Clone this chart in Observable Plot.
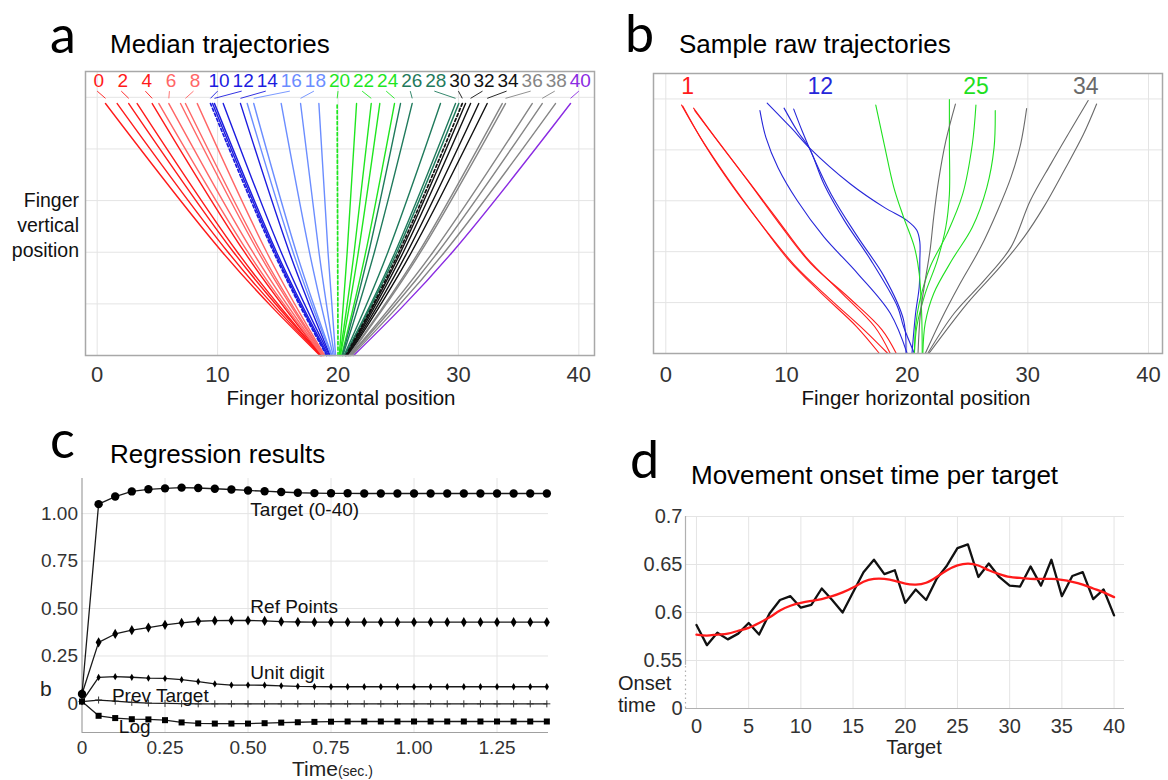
<!DOCTYPE html>
<html>
<head>
<meta charset="utf-8">
<script src="https://cdn.jsdelivr.net/npm/d3@7"></script>
<script src="https://cdn.jsdelivr.net/npm/@observablehq/plot@0.6"></script>
<style>
  html, body { margin:0; padding:0; background:#fff; }
  #page { position:relative; width:1168px; height:780px; overflow:hidden; background:#fff; }
  .panel { position:absolute; }
  .panel svg { overflow:visible; display:block; }
</style>
</head>
<body>
<div id="page"></div>
<script>
// ================= DATA =================
// Panel a: median trajectories, one per target 0..40
const targetsA = [0,1,2,3,4,5,6,7,8,9,10,11,12,13,14,15,16,17,18,19,20,21,22,23,24,25,26,27,28,29,30,31,32,33,34,35,36,37,38,39,40];
// horizontal position at the start (bottom), middle and end (top) of each trajectory
const endA   = [18.5,18.55,18.6,18.6,18.65,18.7,18.75,18.8,18.85,18.9,19.05,19.1,19.2,19.3,19.35,19.45,19.5,19.6,19.7,19.8,20.0,20.1,20.15,20.2,20.3,20.35,20.4,20.5,20.55,20.6,20.65,20.7,20.75,20.8,20.85,20.9,20.95,21.0,21.05,21.15,21.3];
const midA   = [10.4,10.87,11.33,11.65,12.24,12.52,12.93,13.39,13.61,14.08,14.66,14.77,14.9,15.28,15.96,16.27,16.54,17.63,18.42,19.17,19.97,20.76,21.34,21.69,22.3,22.55,23.02,24.14,24.74,24.89,25.05,25.2,25.42,25.75,26.1,26.7,26.85,27.88,28.29,28.84,29.49];
const startA = [0.69,1.66,2.62,3.32,4.57,5.12,5.95,6.92,7.33,8.31,9.41,9.58,9.74,10.47,11.9,12.46,13.0,15.28,16.89,18.41,19.93,21.54,22.76,23.47,24.69,25.19,26.16,28.51,29.76,30.03,30.32,30.59,31.01,31.69,32.39,33.64,33.91,36.13,36.96,38.06,39.31];
const levelsA = [0, 2, 4.88];           // vertical positions of those three samples
const labelTargetsA = [0,2,4,6,8,10,12,14,16,18,20,22,24,26,28,30,32,34,36,38,40];
const dashedA = [10,20,30];
const groupColorsA = ["#ff1a1a","#ff6666","#1c1cdf","#6b8dff","#1fe61f","#1f7a5c","#111111","#858585","#8a2be2"];
const xTicksAB = [0,10,20,30,40];
const gridYAB = [1,2,3,4,5];

// Panel b: sample raw trajectories (target -> list of [x, y] traces)
const rawTargetsB = [1, 12, 25, 34];
const rawLabelXB = [1.8, 12.8, 25.7, 34.8];
const rawColorsB = ["#ff1a1a","#2626d9","#1fe01f","#6a6a6a"];
const raw1 = [
  [[1.3,4.88],[2.9,4.23],[5.3,3.38],[7.7,2.6],[10.2,1.83],[12.9,1.18],[15.8,0.53],[17.7,0]],
  [[1.4,4.86],[3.2,4.11],[5.6,3.26],[8.1,2.48],[10.8,1.7],[13.7,1.05],[16.4,0.47],[18.4,0]],
  [[2.3,4.82],[4.1,4.24],[6.6,3.46],[9.1,2.68],[11.6,1.9],[14.6,1.18],[17.3,0.53],[18.6,0]],
  [[2.4,4.77],[4.4,4.14],[6.9,3.36],[9.4,2.55],[12.0,1.77],[15.2,1.09],[17.9,0.47],[19.1,0]]
];
const raw12 = [
  [[7.8,4.77],[8.3,4.24],[9.3,3.65],[10.9,3.0],[13.1,2.29],[15.9,1.57],[18.6,0.79],[20.0,0]],
  [[8.4,4.92],[10.4,4.43],[11.9,4.04],[15.3,3.33],[18.1,2.87],[20.0,2.61],[20.8,2.42],[21.05,2.19],[21.05,1.83],[21.0,1.31],[20.7,0.79],[20.4,0]],
  [[9.8,4.82],[10.9,4.37],[11.9,4.03],[13.1,3.33],[14.8,2.61],[17.0,1.83],[19.2,0.92],[19.7,0.53],[20.6,0]],
  [[10.6,4.8],[11.3,4.37],[12.0,3.98],[13.7,3.13],[15.9,2.29],[18.1,1.51],[19.7,0.66],[19.9,0]]
];
const raw25 = [
  [[17.4,4.88],[18.1,4.11],[18.9,3.26],[19.7,2.68],[20.6,2.09],[21.0,1.57],[21.2,0.79],[21.25,0]],
  [[23.5,4.99],[23.5,4.11],[23.5,3.13],[23.2,2.48],[22.5,1.83],[21.5,1.18],[20.8,0.53],[20.6,0]],
  [[25.7,4.88],[25.4,4.11],[24.6,3.13],[23.3,2.35],[21.9,1.7],[21.0,0.99],[20.7,0.53],[20.6,0]],
  [[27.3,4.77],[27.2,4.04],[26.6,3.26],[25.4,2.48],[23.7,1.83],[22.2,1.18],[21.5,0.6],[21.3,0]]
];
const raw34 = [
  [[24.0,4.9],[23.2,4.17],[22.6,3.39],[22.2,2.68],[21.9,2.03],[21.5,1.44],[21.1,0.79],[20.9,0]],
  [[29.9,4.81],[29.4,4.11],[28.6,3.46],[27.5,2.81],[26.1,2.09],[24.4,1.38],[22.8,0.66],[21.5,0]],
  [[35.0,4.97],[33.5,4.37],[31.9,3.72],[30.2,3.0],[28.6,2.09],[26.4,1.44],[23.9,0.79],[21.7,0]],
  [[35.7,4.9],[34.6,4.3],[33.0,3.59],[31.3,2.87],[29.7,2.29],[27.7,1.7],[25.0,0.99],[21.8,0]]
];

// Panel c: regression coefficients over time
const timeC   = [0,0.05,0.1,0.15,0.2,0.25,0.3,0.35,0.4,0.45,0.5,0.55,0.6,0.65,0.7,0.75,0.8,0.85,0.9,0.95,1.0,1.05,1.1,1.15,1.2,1.25,1.3,1.35,1.4];
const targetC = [0.05,1.05,1.09,1.117,1.128,1.133,1.137,1.135,1.131,1.127,1.122,1.118,1.114,1.11,1.108,1.107,1.107,1.106,1.106,1.106,1.106,1.106,1.106,1.106,1.106,1.106,1.106,1.106,1.106];
const refC    = [0.05,0.322,0.366,0.386,0.4,0.414,0.425,0.433,0.436,0.437,0.437,0.435,0.431,0.429,0.428,0.428,0.428,0.428,0.428,0.428,0.428,0.428,0.428,0.428,0.428,0.428,0.428,0.428,0.428];
const unitC   = [0.01,0.137,0.141,0.138,0.133,0.132,0.125,0.115,0.103,0.097,0.097,0.096,0.093,0.09,0.089,0.088,0.088,0.088,0.088,0.088,0.088,0.088,0.088,0.088,0.088,0.088,0.088,0.088,0.088];
const prevC   = [0.01,0.018,0.012,0.006,0.002,0,-0.001,-0.002,-0.002,-0.002,-0.002,-0.002,-0.002,-0.002,-0.002,-0.002,-0.002,-0.002,-0.002,-0.002,-0.002,-0.002,-0.002,-0.002,-0.002,-0.002,-0.002,-0.002,-0.002];
const logC    = [0.01,-0.065,-0.077,-0.083,-0.084,-0.088,-0.1,-0.105,-0.106,-0.106,-0.106,-0.104,-0.101,-0.099,-0.097,-0.096,-0.095,-0.095,-0.095,-0.095,-0.095,-0.095,-0.095,-0.095,-0.095,-0.095,-0.095,-0.095,-0.095];
const seriesNamesC = ["Target (0-40)","Ref Points","Unit digit","Prev Target","Log"];
const seriesLabelXC = [0.507, 0.507, 0.507, 0.09, 0.111];
const seriesLabelYC = [1.022, 0.507, 0.162, 0.041, -0.123];
const xTicksC = [0,0.25,0.5,0.75,1.0,1.25];
const yTicksC = [0,0.25,0.5,0.75,1.0];

// Panel d: movement onset time per target
const targetD = [0,1,2,3,4,5,6,7,8,9,10,11,12,13,14,15,16,17,18,19,20,21,22,23,24,25,26,27,28,29,30,31,32,33,34,35,36,37,38,39,40];
const onsetD  = [0.587,0.566,0.579,0.572,0.578,0.589,0.577,0.599,0.613,0.617,0.605,0.608,0.625,0.613,0.600,0.621,0.642,0.655,0.640,0.644,0.610,0.624,0.613,0.635,0.649,0.667,0.671,0.637,0.651,0.637,0.628,0.627,0.648,0.628,0.655,0.617,0.638,0.642,0.614,0.624,0.597];
const smoothD = [0.577,0.576,0.577,0.578,0.581,0.584,0.589,0.595,0.602,0.607,0.610,0.612,0.614,0.617,0.621,0.626,0.632,0.635,0.635,0.633,0.630,0.629,0.631,0.637,0.644,0.649,0.651,0.649,0.644,0.640,0.637,0.636,0.635,0.635,0.635,0.634,0.632,0.629,0.625,0.621,0.616];
const xTicksD = [0,5,10,15,20,25,30,35,40];
const yTicksD = [0.5,0.55,0.6,0.65,0.7];
const yTickLabelsD = ["0","0.55","0.6","0.65","0.7"];

// ================= DRAWING =================
const FONT = "Liberation Sans, Arial, Helvetica, sans-serif";
const NARROW = "Liberation Sans Narrow, Arial Narrow, Liberation Sans, sans-serif";
const page = document.getElementById("page");
function place(node, left, top) {
  const d = document.createElement("div");
  d.className = "panel";
  d.style.left = left + "px";
  d.style.top = top + "px";
  d.appendChild(node);
  page.appendChild(d);
}
const colorOfA = t => t === 40 ? groupColorsA[8] : groupColorsA[Math.floor(t / 5)];
const gridColor = "#e4e4e4";

// ---- panel a ----
const rowsA = targetsA.flatMap((t, i) => [
  {t, x: endA[i], y: levelsA[0]},
  {t, x: midA[i], y: levelsA[1]},
  {t, x: startA[i], y: levelsA[2]}
]);
const labelRowsA = labelTargetsA.map(t => ({t, x: t, x2: startA[targetsA.indexOf(t)]}));
const plotA = Plot.plot({
  width: 600, height: 360,
  marginLeft: 85, marginRight: 6, marginTop: 12, marginBottom: 64,
  x: {domain: [-0.97, 41.3]},
  y: {domain: [0, 5.5], axis: null},
  color: {type: "identity"},
  style: {fontFamily: FONT, fontSize: "22px", color: "#333", background: "transparent", overflow: "visible"},
  marks: [
    Plot.ruleX(xTicksAB, {stroke: gridColor}),
    Plot.ruleY(gridYAB, {stroke: gridColor}),
    Plot.line(rowsA.filter(d => !dashedA.includes(d.t)), {x: "x", y: "y", z: "t", stroke: d => colorOfA(d.t), strokeWidth: 1.4, curve: "natural"}),
    Plot.line(rowsA.filter(d => dashedA.includes(d.t)), {x: "x", y: "y", z: "t", stroke: d => colorOfA(d.t), strokeWidth: 1.7, strokeDasharray: "3,2.5", curve: "natural"}),
    Plot.link(labelRowsA, {x1: "x", y1: 5.12, x2: "x2", y2: 4.98, stroke: d => colorOfA(d.t), strokeWidth: 0.9}),
    Plot.text(labelRowsA, {x: "x", y: 5.31, dx: 1.5, text: d => String(d.t), fill: d => colorOfA(d.t), fontSize: 19, fontFamily: NARROW}),
    Plot.frame({stroke: "#a8a8a8", strokeWidth: 1.5}),
    Plot.axisX(xTicksAB, {tickSize: 0, tickPadding: 11, label: null})
  ]
});
place(plotA, 0, 59);

// ---- panel b ----
const rowsB = [raw1, raw12, raw25, raw34].flatMap((group, gi) =>
  group.flatMap((trace, ti) => trace.map(([x, y]) => ({id: gi * 10 + ti, color: rawColorsB[gi], x, y}))));
const labelRowsB = rawTargetsB.map((t, i) => ({t, x: rawLabelXB[i], color: rawColorsB[i]}));
const plotB = Plot.plot({
  width: 568, height: 360,
  marginLeft: 53, marginRight: 6, marginTop: 14, marginBottom: 66,
  x: {domain: [-1.02, 41.16]},
  y: {domain: [0, 5.5], axis: null},
  color: {type: "identity"},
  style: {fontFamily: FONT, fontSize: "22px", color: "#333", background: "transparent", overflow: "visible"},
  marks: [
    Plot.ruleX(xTicksAB, {stroke: gridColor}),
    Plot.ruleY(gridYAB, {stroke: gridColor}),
    Plot.line(rowsB, {x: "x", y: "y", z: "id", stroke: "color", strokeWidth: 1.1, curve: "catmull-rom"}),
    Plot.text(labelRowsB, {x: "x", y: 5.25, text: d => String(d.t), fill: "color", fontSize: 23, fontFamily: FONT}),
    Plot.frame({stroke: "#a8a8a8", strokeWidth: 1.5}),
    Plot.axisX(xTicksAB, {tickSize: 0, tickPadding: 13, label: null})
  ]
});
place(plotB, 600, 59);

// ---- panel c ----
const valuesC = [targetC, refC, unitC, prevC, logC];
const rowsC = seriesNamesC.flatMap((name, si) => timeC.map((t, i) => ({name, t, v: valuesC[si][i]})));
const ofSeries = n => rowsC.filter(d => d.name === seriesNamesC[n]);
const fmtC = d => d === 0 ? "0" : d.toFixed(2);
const labelRowsC = seriesNamesC.map((name, i) => ({name, x: seriesLabelXC[i], y: seriesLabelYC[i]}));
const plotC = Plot.plot({
  width: 600, height: 310,
  marginLeft: 81.5, marginRight: 52, marginTop: 8, marginBottom: 48,
  x: {domain: [0, 1.405]},
  y: {domain: [-0.153, 1.185]},
  style: {fontFamily: FONT, fontSize: "19px", color: "#333", background: "transparent", overflow: "visible"},
  marks: [
    Plot.ruleX(xTicksC.slice(1), {stroke: gridColor}),
    Plot.ruleY(yTicksC.slice(1), {stroke: gridColor}),
    Plot.ruleX([0], {stroke: "#a0a0a0", strokeWidth: 1.2}),
    Plot.ruleY([-0.153], {stroke: "#a0a0a0", strokeWidth: 1.2}),
    Plot.line(rowsC, {x: "t", y: "v", z: "name", stroke: "#1a1a1a", strokeWidth: 1.3}),
    Plot.dot(ofSeries(0), {x: "t", y: "v", symbol: "circle", r: 4.2, fill: "#000"}),
    Plot.dot(ofSeries(1), {x: "t", y: "v", symbol: "diamond", r: 3.1, fill: "#000"}),
    Plot.dot(ofSeries(2), {x: "t", y: "v", symbol: "diamond", r: 2.2, fill: "#000"}),
    Plot.dot(ofSeries(3), {x: "t", y: "v", symbol: "plus", r: 2.4, stroke: "#333", strokeWidth: 1}),
    Plot.dot(ofSeries(4), {x: "t", y: "v", symbol: "square", r: 3.4, fill: "#000"}),
    Plot.text(labelRowsC, {x: "x", y: "y", text: "name", textAnchor: "start", fontSize: 19, fill: "#111", fontFamily: FONT}),
    Plot.axisX(xTicksC, {tickSize: 0, tickPadding: 8, tickFormat: fmtC, label: null}),
    Plot.axisY(yTicksC, {tickSize: 0, tickPadding: 4, tickFormat: fmtC, label: null})
  ]
});
place(plotC, 0, 470);

// ---- panel d ----
const rowsD = targetD.map((k, i) => ({k, onset: onsetD[i], smooth: smoothD[i]}));
const plotD = Plot.plot({
  width: 568, height: 280,
  marginLeft: 85, marginRight: 44, marginTop: 16, marginBottom: 72,
  x: {domain: [-1.05, 41.0]},
  y: {domain: [0.5, 0.7]},
  style: {fontFamily: FONT, fontSize: "20px", color: "#333", background: "transparent", overflow: "visible"},
  marks: [
    Plot.ruleX(xTicksD, {y1: 0.5, y2: 0.7, stroke: gridColor}),
    Plot.ruleY(yTicksD.slice(1), {x1: -1.05, x2: 41.0, stroke: gridColor}),
    Plot.ruleX([-1.05], {y1: 0.545, y2: 0.7, stroke: "#b0b0b0", strokeWidth: 1.2}),
    Plot.ruleX([-1.05], {y1: 0.5, y2: 0.545, stroke: "#b0b0b0", strokeWidth: 1.2, strokeDasharray: "1.5,3"}),
    Plot.ruleY([0.5], {x1: -1.05, x2: 41.0, stroke: "#b0b0b0", strokeWidth: 1.2}),
    Plot.line(rowsD, {x: "k", y: "onset", stroke: "#111", strokeWidth: 2.3}),
    Plot.line(rowsD, {x: "k", y: "smooth", stroke: "#ff1a1a", strokeWidth: 2.3, curve: "natural"}),
    Plot.axisX(xTicksD, {tickSize: 0, tickPadding: 10, label: null}),
    Plot.axisY(yTicksD, {tickSize: 0, tickPadding: 3, label: null, tickFormat: d => yTickLabelsD[yTicksD.indexOf(d)]})
  ]
});
place(plotD, 600, 500);

// ---- titles, panel letters and axis titles ----
const ov = d3.select(page).append("svg")
  .attr("width", 1168).attr("height", 780)
  .style("position", "absolute").style("left", "0px").style("top", "0px")
  .style("pointer-events", "none");
function txt(x, y, s, o = {}) {
  return ov.append("text").attr("x", x).attr("y", y)
    .attr("font-size", o.size || 26)
    .attr("font-family", o.family || FONT)
    .attr("text-anchor", o.anchor || "start")
    .attr("fill", o.fill || "#000")
    .text(s);
}
const LETTER = "Lato, Open Sans, sans-serif";
txt(50, 53, "a", {size: 52, family: LETTER});
txt(110, 53, "Median trajectories");
txt(625, 52, "b", {size: 52, family: LETTER});
txt(679, 53, "Sample raw trajectories");
txt(50, 458, "c", {size: 52, family: LETTER});
txt(110, 463, "Regression results");
txt(630, 478, "d", {size: 52, family: LETTER});
txt(691, 484, "Movement onset time per target");

txt(79, 207, "Finger", {size: 19.5, anchor: "end", fill: "#111"});
txt(79, 232, "vertical", {size: 19.5, anchor: "end", fill: "#111"});
txt(79, 257, "position", {size: 19.5, anchor: "end", fill: "#111"});
txt(341, 405, "Finger horizontal position", {size: 20.5, anchor: "middle", fill: "#111"});
txt(916, 405, "Finger horizontal position", {size: 20.5, anchor: "middle", fill: "#111"});

txt(40, 696, "b", {size: 21, fill: "#222"});
const tl = txt(292, 776, "Time", {size: 21, fill: "#222"});
tl.append("tspan").attr("font-size", 14).text("(sec.)");

txt(618, 690, "Onset", {size: 20, fill: "#222"});
txt(618, 712, "time", {size: 20, fill: "#222"});
txt(914, 754, "Target", {size: 20, anchor: "middle", fill: "#222"});
</script>
</body>
</html>
